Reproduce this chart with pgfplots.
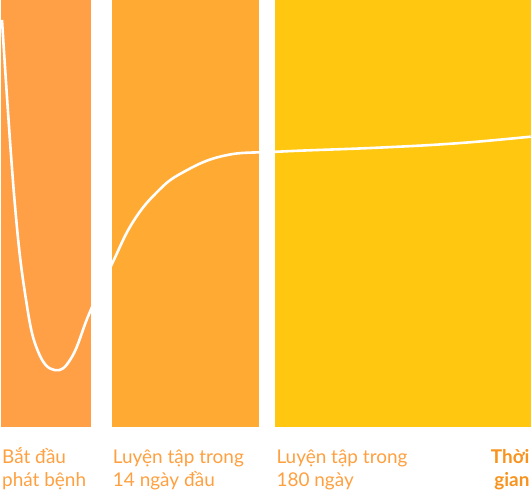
\documentclass[border=0pt]{standalone}
\usepackage{pgfplots}
\pgfplotsset{compat=1.18}
\usepackage{fontspec}
\setmainfont{Lato}
\definecolor{cA}{HTML}{FFA047}
\definecolor{cB}{HTML}{FFAA33}
\definecolor{cC}{HTML}{FFC710}
\definecolor{txt}{HTML}{FFA040}
\definecolor{txtb}{HTML}{F7931E}
\begin{document}
\begin{tikzpicture}
\begin{axis}[
  scale only axis, width=532pt, height=428pt,
  xmin=0, xmax=532, ymin=0, ymax=428,
  axis lines=none, clip=false,
]
\path (axis cs:0,-69) rectangle (axis cs:532,428);
\addplot[fill=cA, draw=none] coordinates {(1.5,428) (91.5,428)} \closedcycle;
\addplot[fill=cB, draw=none] coordinates {(112.5,428) (259.5,428)} \closedcycle;
\addplot[fill=cC, draw=none] coordinates {(276,428) (532,428)} \closedcycle;
\addplot[white, line width=2.6pt, smooth, tension=0.7] coordinates {
(2,408) (14.5,228) (26,128) (38,76) (55,57) (72,70) (90,115) (113,165)
(133,205) (157,235) (183,255) (225,272) (280,276) (380,280) (460,284.5) (532,291)};
\begin{scope}[every node/.style={inner sep=0pt, font=\fontsize{19}{23}\selectfont, text=txt}]
\node[anchor=base west] at (axis cs:2,-37) {Bắt đầu};
\node[anchor=base west] at (axis cs:2,-60) {phát bệnh};
\node[anchor=base west] at (axis cs:113,-37) {Luyện tập trong};
\node[anchor=base west] at (axis cs:113,-60) {14 ngày đầu};
\node[anchor=base west] at (axis cs:277,-37) {Luyện tập trong};
\node[anchor=base west] at (axis cs:277,-60) {180 ngày};
\node[anchor=base east, text=txtb, font=\fontsize{19}{23}\selectfont\bfseries] at (axis cs:531,-37) {Thời};
\node[anchor=base east, text=txtb, font=\fontsize{19}{23}\selectfont\bfseries] at (axis cs:531,-60) {gian};
\end{scope}
\end{axis}
\end{tikzpicture}
\end{document}
